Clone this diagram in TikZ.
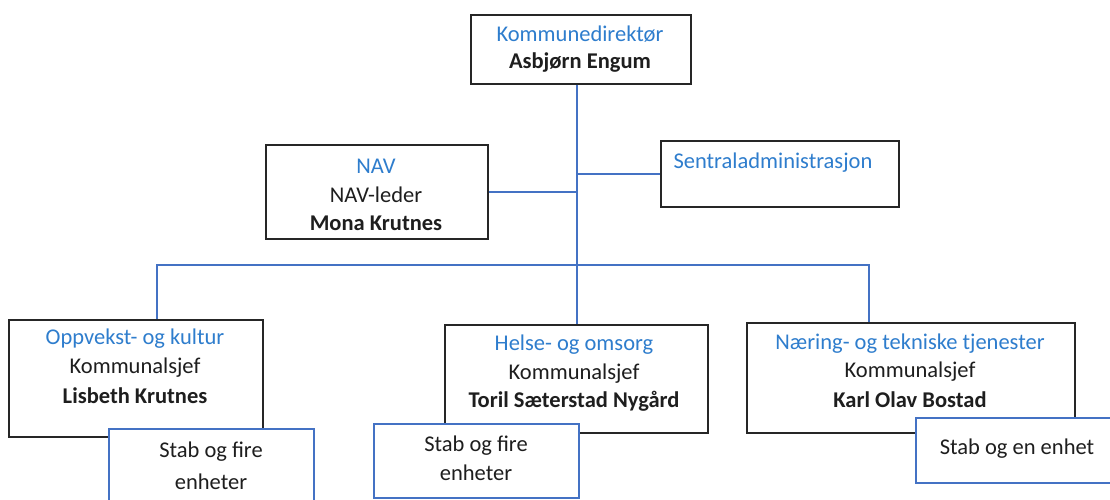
\documentclass[tikz,border=0pt]{standalone}
\usepackage{fontspec}
\setmainfont{Carlito}
\definecolor{ttl}{RGB}{46,125,205}
\definecolor{lineblue}{RGB}{68,114,196}
\definecolor{boxline}{RGB}{38,38,38}
\definecolor{txt}{RGB}{30,30,30}
\begin{document}
\begin{tikzpicture}[x=1pt,y=-1pt,
  every node/.style={font=\fontsize{22.5}{27}\selectfont, text=txt},
  mainbox/.style={draw=boxline, line width=1.6pt, fill=white, inner sep=0pt, anchor=north west},
  stabbox/.style={draw=lineblue, line width=1.5pt, fill=white, inner sep=0pt, anchor=north west},
  ttltext/.style={text=ttl},
  nametext/.style={font=\fontsize{22.5}{27}\selectfont\bfseries},
  conn/.style={draw=lineblue, line width=1.5pt}]
\useasboundingbox (0,0) rectangle (1110,499);
\clip (0,0) rectangle (1110,499);
% main boxes
\node[mainbox, minimum width=220pt, minimum height=69pt] (top) at (470,14) {};
\node[mainbox, minimum width=222pt, minimum height=94pt] (nav) at (265,144) {};
\node[mainbox, minimum width=238pt, minimum height=66pt] (sentral) at (660,140) {};
\node[mainbox, minimum width=254pt, minimum height=117pt] (opp) at (8,319) {};
\node[mainbox, minimum width=263pt, minimum height=108pt] (helse) at (444,324) {};
\node[mainbox, minimum width=328pt, minimum height=110pt] (naering) at (746,322) {};
% texts
\node[ttltext] (t1) at (580,34) {Kommunedirektør};
\node[nametext] (t2) at (580,63) {Asbjørn Engum};
\node[ttltext] (n1) at (376,166) {NAV};
\node (n2) at (376,195) {NAV-leder};
\node[nametext] (n3) at (376,223) {Mona Krutnes};
\node[ttltext, anchor=west] (s1) at (670,163) {Sentraladministrasjon};
\node[ttltext] (o1) at (135,339) {Oppvekst- og kultur};
\node (o2) at (135,368) {Kommunalsjef};
\node[nametext] (o3) at (135,396) {Lisbeth Krutnes};
\node[ttltext] (h1) at (574,345) {Helse- og omsorg};
\node (h2) at (574,374) {Kommunalsjef};
\node[nametext] (h3) at (574,401) {Toril Sæterstad Nygård};
\node[ttltext] (k1) at (910,344) {Næring- og tekniske tjenester};
\node (k2) at (910,372) {Kommunalsjef};
\node[nametext] (k3) at (910,400) {Karl Olav Bostad};
% connectors
\coordinate (tx) at (577,0);
\coordinate (ol) at (157,0);
\coordinate (nr) at (869,0);
\coordinate (bus) at (577,265);
\draw[conn] (top.south -| tx) -- (helse.north -| tx);
\draw[conn] (nav.east) -- (nav.east -| tx);
\draw[conn] (sentral.west) -- (sentral.west -| tx);
\draw[conn] (opp.north -| ol) |- (bus) -| (naering.north -| nr);
% staff boxes
\node[stabbox, minimum width=205pt, minimum height=90pt] (stab1) at (108,428) {};
\node (a1) at (211,452) {Stab og fire};
\node (a2) at (211,482) {enheter};
\node[stabbox, minimum width=205pt, minimum height=74pt] (stab2) at (373,423) {};
\node (b1) at (476,446) {Stab og fire};
\node (b2) at (476,473) {enheter};
\node[stabbox, minimum width=210pt, minimum height=65pt] (stab3) at (915,417) {};
\node (c1) at (1017,449) {Stab og en enhet};
\end{tikzpicture}
\end{document}
